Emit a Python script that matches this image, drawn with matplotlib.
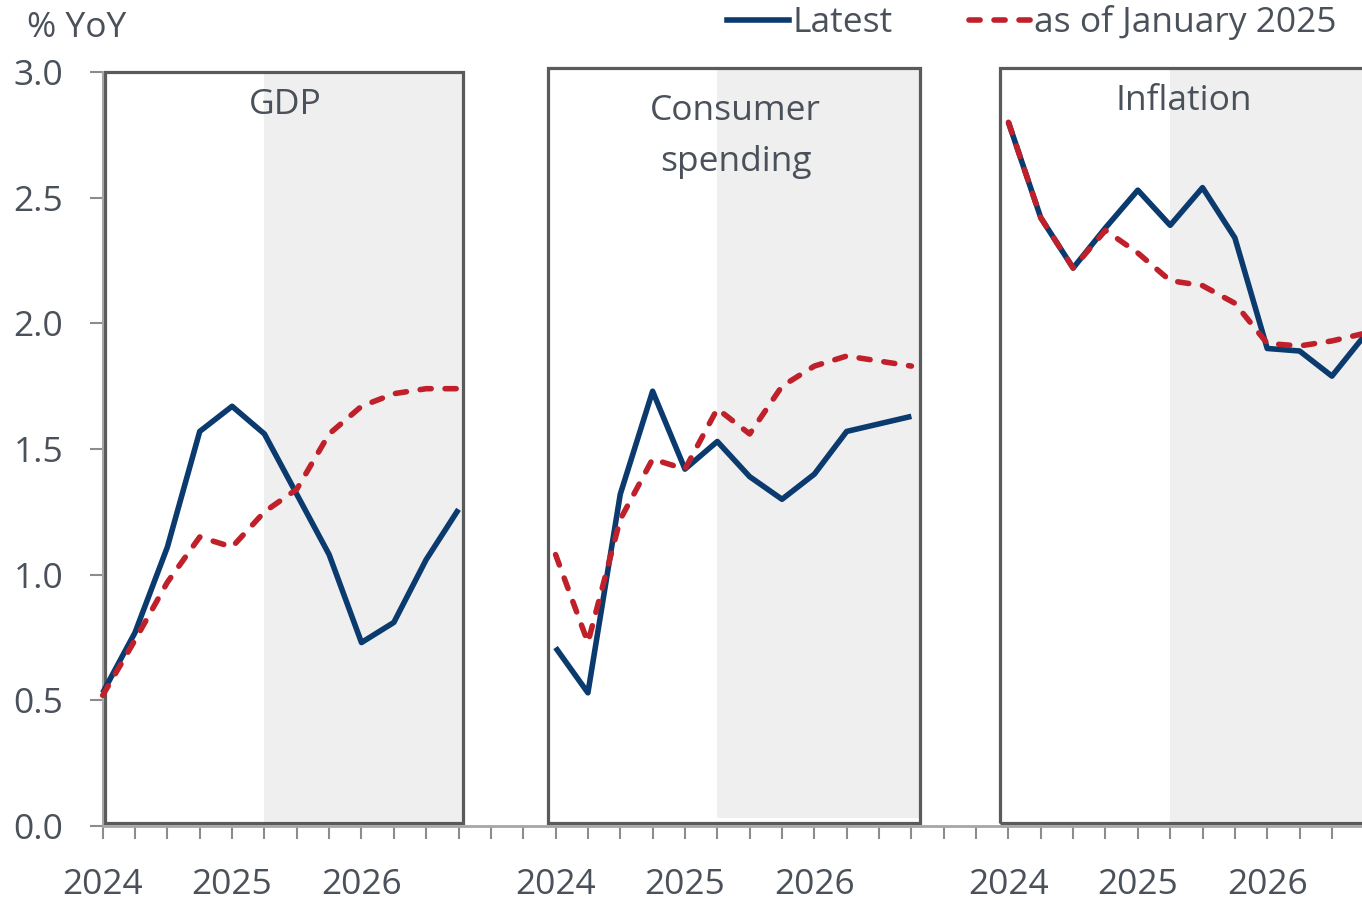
import matplotlib.pyplot as plt
import numpy as np
from matplotlib.patches import Rectangle
from matplotlib.lines import Line2D

plt.rcParams['font.family'] = ['Open Sans', 'DejaVu Sans']

# quarterly data, 2024Q1 .. 2026Q4
quarters = ['2024Q1', '2024Q2', '2024Q3', '2024Q4',
            '2025Q1', '2025Q2', '2025Q3', '2025Q4',
            '2026Q1', '2026Q2', '2026Q3', '2026Q4']
panel_names = ['GDP', 'Consumer\nspending', 'Inflation']

gdp_latest = [0.53, 0.77, 1.11, 1.57, 1.67, 1.56, 1.32, 1.08, 0.73, 0.81, 1.06, 1.26]
gdp_jan25 = [0.52, 0.74, 0.97, 1.15, 1.11, 1.25, 1.34, 1.56, 1.67, 1.72, 1.74, 1.74]

cons_latest = [0.71, 0.53, 1.32, 1.73, 1.42, 1.53, 1.39, 1.30, 1.40, 1.57, 1.60, 1.63]
cons_jan25 = [1.08, 0.73, 1.22, 1.46, 1.42, 1.66, 1.56, 1.75, 1.83, 1.87, 1.85, 1.83]

infl_latest = [2.80, 2.42, 2.22, 2.38, 2.53, 2.39, 2.54, 2.34, 1.90, 1.89, 1.79, 1.95]
infl_jan25 = [2.80, 2.42, 2.22, 2.37, 2.28, 2.17, 2.15, 2.08, 1.92, 1.91, 1.93, 1.96]

latest = [gdp_latest, cons_latest, infl_latest]
jan25 = [gdp_jan25, cons_jan25, infl_jan25]

navy = '#0a3a6e'
red = '#c0202a'
txt = '#4a515a'
shade = '#efefef'
boxcol = '#5a5a5a'
fs = 25.5

n = len(quarters)
gap = 2
offsets = [p * (n + gap) for p in range(len(panel_names))]

fig = plt.figure(figsize=(13.62, 9), dpi=100)
ax = fig.add_axes([0.0754, 0.0822, 0.9246, 0.8378])
ax.set_xlim(0, 38.93)
ax.set_ylim(0, 3.0)

# panel frames and forecast shading (layout tweaks per panel)
box_left = [0.07, -0.23, -0.26]
box_right = [11.14, 11.26, 14.0]
box_top = [3.0, 3.016, 3.016]
shade_bottom = [0.012, 0.032, 0.012]
title_x = [5.64, 5.57, 5.43]
title_y = [2.87, 2.745, 2.885]

for p in range(3):
    o = offsets[p]
    ax.add_patch(Rectangle((o + 5, shade_bottom[p]), box_right[p] - 5, box_top[p] - shade_bottom[p],
                           facecolor=shade, edgecolor='none', zorder=1, clip_on=False))
    ax.add_patch(Rectangle((o + box_left[p], 0.012), box_right[p] - box_left[p], box_top[p] - 0.012,
                           facecolor='none', edgecolor=boxcol, lw=2.3, zorder=2, clip_on=False))
    x = np.arange(n) + o
    ax.plot(x, latest[p], color=navy, lw=4, zorder=4, clip_on=False,
            solid_capstyle='butt')
    ax.plot(x, jan25[p], color=red, lw=4, zorder=5, clip_on=False,
            dashes=(2.0, 2.5), dash_capstyle='round')
    ax.text(o + title_x[p], title_y[p], panel_names[p], ha='center', va='center',
            fontsize=fs, color=txt, linespacing=1.65, zorder=6)

# axes styling
for s in ['top', 'right']:
    ax.spines[s].set_visible(False)
ax.spines['left'].set_color('#a6a6a6')
ax.spines['left'].set_linewidth(1.5)
ax.spines['bottom'].set_color('#a6a6a6')
ax.spines['bottom'].set_linewidth(2)
ax.spines['bottom'].set_zorder(3)

ticks = np.arange(0, 39)
labels = [''] * len(ticks)
for o in offsets:
    for k, q in enumerate(quarters):
        if q.endswith('Q1'):
            labels[o + k] = q[:4]
ax.set_xticks(ticks)
ax.set_xticklabels(labels)
ax.set_yticks(np.arange(0, 3.01, 0.5))
ax.set_yticklabels(['%.1f' % v for v in np.arange(0, 3.01, 0.5)])
ax.tick_params(axis='x', length=9, width=1.5, color='#8c8c8c', pad=21,
               labelsize=fs, labelcolor=txt)
ax.tick_params(axis='y', length=9.5, width=1.5, color='#8c8c8c', pad=19,
               labelsize=fs, labelcolor=txt)

fig.text(27 / 1362, 1 - 28 / 900, '% YoY', fontsize=fs, color=txt, ha='left', va='center')

handles = [Line2D([], [], color=navy, lw=4),
           Line2D([], [], color=red, lw=4, dashes=(2.0, 2.5), dash_capstyle='round')]
leg = fig.legend(handles, ['Latest', 'as of January 2025'], loc='center right',
                 bbox_to_anchor=(1337 / 1362, 1 - 23 / 900), ncol=2, frameon=False,
                 fontsize=fs, handlelength=1.75, handletextpad=0.1, columnspacing=2.15,
                 borderpad=0, borderaxespad=0)
for t in leg.get_texts():
    t.set_color(txt)

fig.savefig('out.png', dpi=100)
